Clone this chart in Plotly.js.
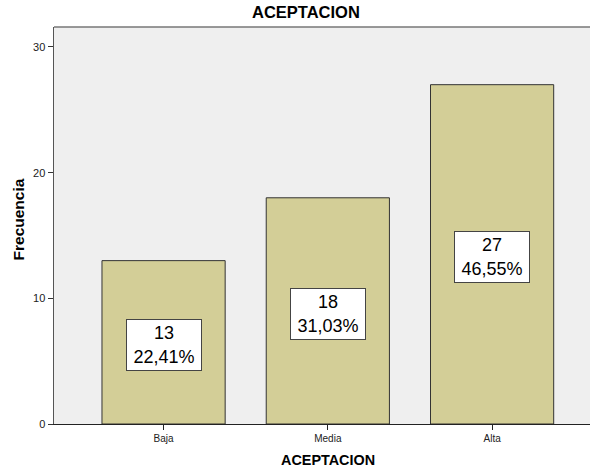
<!DOCTYPE html>
<html>
<head>
<meta charset="utf-8">
<script src="https://cdn.plot.ly/plotly-3.0.1.min.js"></script>
<style>
  html, body { margin: 0; padding: 0; background: #ffffff; }
  #chart { width: 590px; height: 472px; }
</style>
</head>
<body>
<div id="chart"></div>
<script>
// Frequency of each ACEPTACION level
const categories = ['Baja', 'Media', 'Alta'];
const counts = [13, 18, 27];
const percentLabels = ['22,41%', '31,03%', '46,55%'];
const yTicks = [0, 10, 20, 30];

const FONT = 'Arial, "Liberation Sans", sans-serif';

const barTrace = {
  type: 'bar',
  x: categories,
  y: counts,
  width: 0.75,
  marker: {
    color: 'rgb(211,206,151)',
    line: { color: '#333333', width: 1 }
  },
  hoverinfo: 'skip'
};

// boxed labels in the middle of each bar: count and share
const labels = categories.map((c, i) => ({
  x: c,
  y: counts[i] / 2,
  xref: 'x',
  yref: 'y',
  yshift: -3,
  text: counts[i] + '<br>' + percentLabels[i],
  showarrow: false,
  font: { family: FONT, size: 18, color: '#000000' },
  bgcolor: '#ffffff',
  bordercolor: '#444444',
  borderwidth: 1,
  borderpad: 1,
  width: 72,
  height: 48
}));

// chart title
labels.push({
  x: 0.47, y: 1, xref: 'paper', yref: 'paper',
  yanchor: 'bottom', yshift: 4,
  text: '<b>ACEPTACION</b>', showarrow: false,
  font: { family: FONT, size: 16.5, color: '#000000' }
});

// x axis title
labels.push({
  x: 0.511, y: 0, xref: 'paper', yref: 'paper',
  yanchor: 'middle', yshift: -36,
  text: '<b>ACEPTACION</b>', showarrow: false,
  font: { family: FONT, size: 14.4, color: '#000000' }
});

// y axis title
labels.push({
  x: -0.0662, y: 0.514, xref: 'paper', yref: 'paper',
  xanchor: 'center', yanchor: 'middle', textangle: -90,
  text: '<b>Frecuencia</b>', showarrow: false,
  font: { family: FONT, size: 15.5, color: '#000000' }
});

const layout = {
  width: 590,
  height: 472,
  margin: { l: 54, r: 0, t: 27, b: 48 },
  paper_bgcolor: '#ffffff',
  plot_bgcolor: '#efefef',
  showlegend: false,
  bargap: 0,
  xaxis: {
    type: 'category',
    range: [-0.667, 2.596],
    showgrid: false,
    zeroline: false,
    showline: true,
    linecolor: '#222222',
    linewidth: 1,
    ticks: 'outside',
    ticklen: 5,
    tickcolor: '#222222',
    tickfont: { family: FONT, size: 10, color: '#222222' }
  },
  yaxis: {
    range: [0, 31.59],
    tickvals: yTicks,
    ticktext: yTicks.map(String),
    showgrid: false,
    zeroline: false,
    showline: true,
    linecolor: '#555555',
    linewidth: 1.5,
    ticks: 'outside',
    ticklen: 5,
    tickcolor: '#333333',
    tickfont: { family: FONT, size: 11, color: '#222222' }
  },
  shapes: [
    {
      type: 'line', xref: 'paper', yref: 'paper',
      x0: 0, x1: 1, y0: 1, y1: 1,
      line: { color: '#777777', width: 1.5 }
    }
  ],
  annotations: labels
};

Plotly.newPlot('chart', [barTrace], layout, { displayModeBar: false, staticPlot: true });
</script>
</body>
</html>
